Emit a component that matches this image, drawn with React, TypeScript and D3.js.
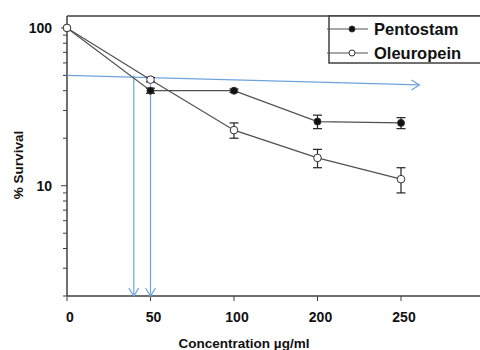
import React, { useEffect, useRef } from 'react'
import * as d3 from 'd3'

// concentrations (µg/ml) shown as evenly spaced categories
const concentrations = [0, 50, 100, 200, 250]
const pentostam = [100, 40, 40, 25.5, 25]
const pentostamErr = [0, 1.5, 1, 2.5, 2]
const oleuropein = [100, 47, 22.5, 15, 11]
const oleuropeinErr = [0, 1.5, 2.5, 2, 2]
const yTickLabels = [10, 100]
const ic50 = [40, 50]
const guideStart = { conc: 0, value: 50 }
const guideEnd = { conc: 261, value: 43.5 }

const W = 480
const H = 350
const margin = { top: 16, right: 0, bottom: 54, left: 67 }

export default function App() {
  const svgRef = useRef<SVGSVGElement>(null)

  useEffect(() => {
    if (!svgRef.current) return
    const svg = d3.select(svgRef.current)
    svg.selectAll('*').remove()

    const font = 'Arial, "Liberation Sans", sans-serif'
    const lineColor = '#505050'
    const axisColor = '#404040'
    const blue = '#6fa3dc'
    const bottom = H - margin.bottom

    const x = d3
      .scalePoint<string>()
      .domain(concentrations.map(String))
      .range([margin.left, 401])
    // piecewise linear helper for positions between categories
    const xConc = d3
      .scaleLinear()
      .domain(concentrations)
      .range(concentrations.map((c) => x(String(c)) as number))
    const y = d3.scaleLog().domain([2, 119]).range([bottom, margin.top])

    // frame
    svg.append('line').attr('x1', margin.left).attr('x2', W).attr('y1', margin.top).attr('y2', margin.top)
      .attr('stroke', axisColor).attr('stroke-width', 1.5)
    svg.append('line').attr('x1', margin.left).attr('x2', margin.left).attr('y1', margin.top).attr('y2', bottom)
      .attr('stroke', axisColor).attr('stroke-width', 1.5)
    svg.append('line').attr('x1', margin.left).attr('x2', W).attr('y1', bottom).attr('y2', bottom)
      .attr('stroke', axisColor).attr('stroke-width', 1.5)

    // y ticks
    const minor: number[] = []
    for (let d = 1; d <= 100; d *= 10) for (let k = 1; k < 10; k++) {
      const v = d * k
      if (v >= 2 && v <= 100) minor.push(v)
    }
    svg.append('g').selectAll('line').data(minor).enter().append('line')
      .attr('x1', (d) => (yTickLabels.includes(d) ? margin.left - 6 : margin.left - 4))
      .attr('x2', margin.left)
      .attr('y1', (d) => y(d)).attr('y2', (d) => y(d))
      .attr('stroke', axisColor).attr('stroke-width', 1)
    svg.append('g').selectAll('text').data(yTickLabels).enter().append('text')
      .attr('x', 52).attr('y', (d) => y(d)).attr('dy', '0.35em')
      .attr('text-anchor', 'end').attr('font-family', font).attr('font-weight', 'bold')
      .attr('font-size', 14).attr('fill', '#111').text((d) => d)

    // x ticks
    svg.append('g').selectAll('line').data(concentrations).enter().append('line')
      .attr('x1', (d) => x(String(d)) as number).attr('x2', (d) => x(String(d)) as number)
      .attr('y1', bottom).attr('y2', bottom + 5)
      .attr('stroke', axisColor).attr('stroke-width', 1)
    svg.append('g').selectAll('text').data(concentrations).enter().append('text')
      .attr('x', (d) => (x(String(d)) as number) + 3).attr('y', 317).attr('dy', '0.35em')
      .attr('text-anchor', 'middle').attr('font-family', font).attr('font-weight', 'bold')
      .attr('font-size', 14).attr('fill', '#111').text((d) => d)

    // axis titles
    svg.append('text').attr('x', 244).attr('y', 343).attr('dy', '0.35em')
      .attr('text-anchor', 'middle').attr('font-family', font).attr('font-weight', 'bold')
      .attr('font-size', 13.5).attr('fill', '#111').text('Concentration µg/ml')
    svg.append('text').attr('transform', 'translate(18,165) rotate(-90)').attr('dy', '0.35em')
      .attr('text-anchor', 'middle').attr('font-family', font).attr('font-weight', 'bold')
      .attr('font-size', 13.5).attr('fill', '#111').text('% Survival')

    // IC50 guide lines
    const gy = y(guideStart.value)
    svg.append('line')
      .attr('x1', xConc(guideStart.conc)).attr('y1', gy)
      .attr('x2', xConc(guideEnd.conc)).attr('y2', y(guideEnd.value))
      .attr('stroke', blue).attr('stroke-width', 1.2)
    const ex = xConc(guideEnd.conc)
    const ey = y(guideEnd.value)
    svg.append('path')
      .attr('d', `M${ex - 8},${ey - 5}L${ex},${ey}L${ex - 8},${ey + 5}`)
      .attr('fill', 'none').attr('stroke', blue).attr('stroke-width', 1.2)
    ic50.forEach((c) => {
      const cx = xConc(c)
      svg.append('line').attr('x1', cx).attr('x2', cx).attr('y1', gy).attr('y2', bottom)
        .attr('stroke', blue).attr('stroke-width', 1.2)
      svg.append('path')
        .attr('d', `M${cx - 5},${bottom - 8}L${cx},${bottom}L${cx + 5},${bottom - 8}`)
        .attr('fill', 'none').attr('stroke', blue).attr('stroke-width', 1.2)
    })

    const drawSeries = (values: number[], errs: number[], filled: boolean) => {
      const pts = values.map((v, i) => ({ c: String(concentrations[i]), v, e: errs[i] }))
      const line = d3.line<{ c: string; v: number }>()
        .x((d) => x(d.c) as number).y((d) => y(d.v))
      svg.append('path').datum(pts).attr('d', line).attr('fill', 'none')
        .attr('stroke', lineColor).attr('stroke-width', 1.2)
      const g = svg.append('g')
      pts.filter((d) => d.e > 0).forEach((d) => {
        const px = x(d.c) as number
        const top = y(d.v + d.e)
        const bot = y(d.v - d.e)
        g.append('line').attr('x1', px).attr('x2', px).attr('y1', top).attr('y2', bot)
          .attr('stroke', '#222').attr('stroke-width', 1.2)
        ;[top, bot].forEach((yy) => {
          g.append('line').attr('x1', px - 4.5).attr('x2', px + 4.5).attr('y1', yy).attr('y2', yy)
            .attr('stroke', '#222').attr('stroke-width', 1.2)
        })
      })
      g.selectAll('circle').data(pts).enter().append('circle')
        .attr('cx', (d) => x(d.c) as number).attr('cy', (d) => y(d.v))
        .attr('r', filled ? 3.5 : 3.8)
        .attr('fill', filled ? '#111' : '#fff').attr('stroke', '#333').attr('stroke-width', 1)
    }
    drawSeries(pentostam, pentostamErr, true)
    drawSeries(oleuropein, oleuropeinErr, false)

    // legend
    const lg = svg.append('g')
    lg.append('rect').attr('x', 329).attr('y', margin.top).attr('width', 160).attr('height', 47)
      .attr('fill', '#fff').attr('stroke', axisColor).attr('stroke-width', 1.5)
    const items = [
      { name: 'Pentostam', filled: true, yy: 29 },
      { name: 'Oleuropein', filled: false, yy: 53 },
    ]
    items.forEach((it) => {
      lg.append('line').attr('x1', 327).attr('x2', 368).attr('y1', it.yy).attr('y2', it.yy)
        .attr('stroke', lineColor).attr('stroke-width', 1.2)
      lg.append('circle').attr('cx', 352).attr('cy', it.yy).attr('r', 3)
        .attr('fill', it.filled ? '#111' : '#fff').attr('stroke', '#333').attr('stroke-width', 1)
      lg.append('text').attr('x', 374).attr('y', it.yy).attr('dy', '0.35em')
        .attr('font-family', font).attr('font-weight', 'bold').attr('font-size', 16.5)
        .attr('fill', '#111').text(it.name)
    })
  }, [])

  return (
    <svg
      ref={svgRef}
      width={W}
      height={H}
      style={{ position: 'absolute', left: 0, top: 0, background: '#fff' }}
    />
  )
}
